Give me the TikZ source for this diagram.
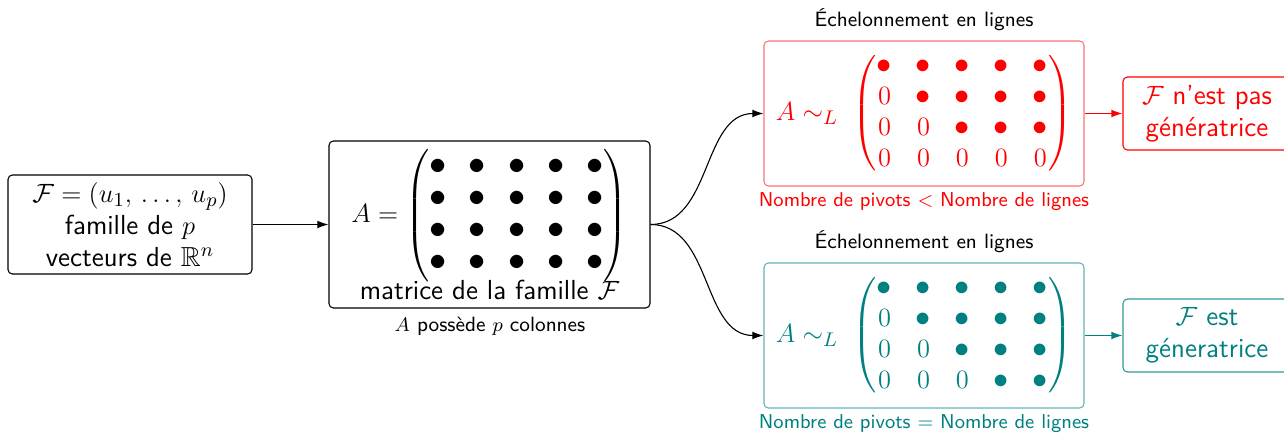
\documentclass[tikz,border=0pt]{standalone}
\usepackage{amsmath,amssymb}
\usepackage{fontspec}
\usetikzlibrary{arrows.meta}
\renewcommand{\familydefault}{\sfdefault}
\definecolor{myred}{RGB}{255,0,0}
\definecolor{myteal}{RGB}{0,128,128}
\newcommand{\pxu}{0.454pt}
\newcommand{\bigdot}{\mathord{\scalebox{1.3}{$\bullet$}}}
\newcommand{\mdot}{\mathord{\scalebox{1.15}{$\bullet$}}}
\newenvironment{redmat}{\setlength{\arraycolsep}{5.4pt}\renewcommand{\arraystretch}{0.97}\begin{pmatrix}}{\end{pmatrix}}
\tikzset{
  box/.style={draw, rounded corners=2pt, line width=0.5pt, align=center, inner sep=0pt, font=\fontsize{12.5}{14.5}\selectfont},
  lbl/.style={font=\fontsize{9.4}{11.5}\selectfont},
  nlbl/.style={font=\fontsize{9.1}{11}\selectfont},
  arr/.style={-{Latex[length=5pt,width=3.5pt]}, line width=0.5pt},
}
\begin{document}
\begin{tikzpicture}[x=0.454pt,y=-0.454pt]
\useasboundingbox (0,0) rectangle (1284,435);
% box 1
\node[box, minimum width=244*\pxu, minimum height=99*\pxu] (fam) at (130,224.5)
  {$\mathcal{F}=(u_1,\,\ldots,\,u_p)$\\famille de $p$\\vecteurs de $\mathbb{R}^n$};
% box 2
\node[box, minimum width=321*\pxu, minimum height=167*\pxu] (mat) at (489.5,224.5)
  {$A=\begin{pmatrix}
  \bigdot&\bigdot&\bigdot&\bigdot&\bigdot\\
  \bigdot&\bigdot&\bigdot&\bigdot&\bigdot\\
  \bigdot&\bigdot&\bigdot&\bigdot&\bigdot\\
  \bigdot&\bigdot&\bigdot&\bigdot&\bigdot
  \end{pmatrix}$\\[-2pt] matrice de la famille $\mathcal{F}$};
\node[lbl] (col) at (490,326) {$A$ possède $p$ colonnes};
% red branch
\node[box, draw=myred!55, text=myred, minimum width=320*\pxu, minimum height=145*\pxu] (ech1) at (924,113.5)
  {$A\sim_L\;\begin{redmat}
  \mdot&\mdot&\mdot&\mdot&\mdot\\
  0&\mdot&\mdot&\mdot&\mdot\\
  0&0&\mdot&\mdot&\mdot\\
  0&0&0&0&0
  \end{redmat}$};
\node[lbl] (t1) at (924,20) {Échelonnement en lignes};
\node[nlbl, text=myred] (n1) at (924,202) {Nombre de pivots $<$ Nombre de lignes};
\node[box, draw=myred, text=myred, minimum width=168*\pxu, minimum height=73*\pxu] (r1) at (1207,113.5)
  {$\mathcal{F}$ n'est pas\\génératrice};
% teal branch
\node[box, draw=myteal!60, text=myteal, minimum width=320*\pxu, minimum height=145*\pxu] (ech2) at (924,335.5)
  {$A\sim_L\;\begin{redmat}
  \mdot&\mdot&\mdot&\mdot&\mdot\\
  0&\mdot&\mdot&\mdot&\mdot\\
  0&0&\mdot&\mdot&\mdot\\
  0&0&0&\mdot&\mdot
  \end{redmat}$};
\node[lbl] (t2) at (924,242) {Échelonnement en lignes};
\node[nlbl, text=myteal] (n2) at (924,424) {Nombre de pivots $=$ Nombre de lignes};
\node[box, draw=myteal!80, text=myteal, minimum width=168*\pxu, minimum height=73*\pxu] (r2) at (1207,335.5)
  {$\mathcal{F}$ est\\géneratrice};
% connectors
\draw[arr] (fam) -- (mat);
\draw[arr] (mat.east) to[out=0,in=180] (ech1.west);
\draw[arr] (mat.east) to[out=0,in=180] (ech2.west);
\draw[arr, myred] (ech1) -- (r1);
\draw[arr, myteal] (ech2) -- (r2);
\end{tikzpicture}
\end{document}
